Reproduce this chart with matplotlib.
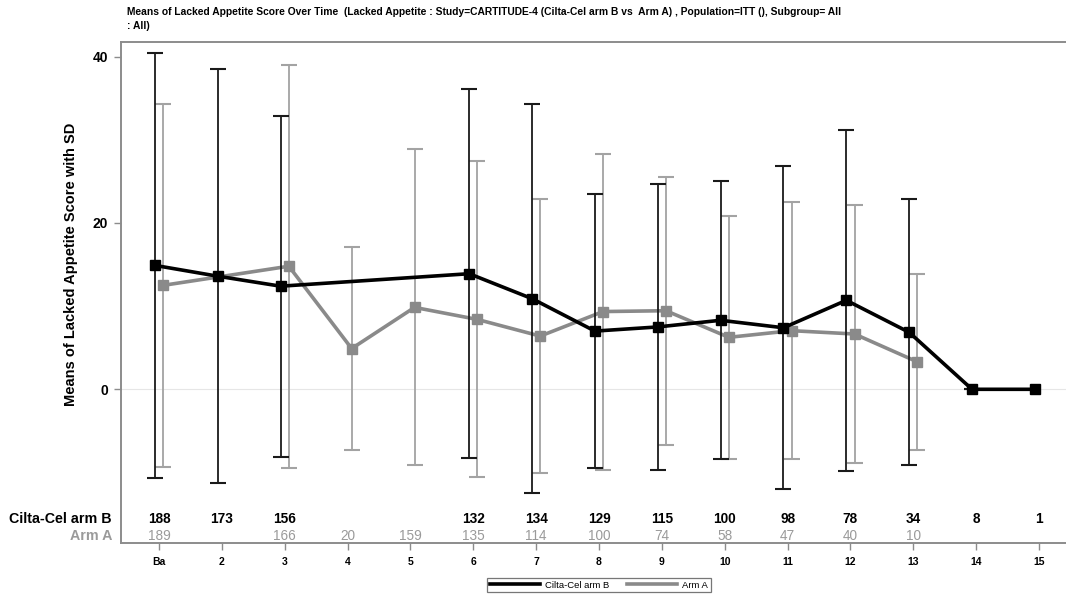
import numpy as np
import matplotlib
matplotlib.use("Agg")
import matplotlib.pyplot as plt
from matplotlib.lines import Line2D
import matplotlib.transforms as mtransforms

plt.rcParams["font.family"] = ["Liberation Sans", "DejaVu Sans"]

# Visit labels (position 1 = baseline)
visit_labels = ["Ba", "2", "3", "4", "5", "6", "7", "8", "9", "10", "11", "12", "13", "14", "15"]

# Cilta-Cel arm B: mean, SD and N per visit (nan = not assessed)
mean_b = [14.9, 13.6, 12.4, np.nan, np.nan, 13.9, 10.9, 7.0, 7.5, 8.3, 7.4, 10.7, 6.85, 0.0, 0.0]
sd_b = [25.6, 24.9, 20.5, np.nan, np.nan, 22.2, 23.4, 16.5, 17.15, 16.7, 19.45, 20.5, 16.0, 0.0, np.nan]
n_b = [188, 173, 156, None, None, 132, 134, 129, 115, 100, 98, 78, 34, 8, 1]

# Arm A: mean, SD and N per visit
mean_a = [12.5, np.nan, 14.8, 4.9, 9.85, 8.4, 6.4, 9.35, 9.45, 6.25, 7.05, 6.65, 3.3, np.nan, np.nan]
sd_a = [21.8, np.nan, 24.25, 12.2, 19.0, 19.0, 16.5, 19.0, 16.1, 14.6, 15.45, 15.5, 10.55, np.nan, np.nan]
n_a = [189, None, 166, 20, 159, 135, 114, 100, 74, 58, 47, 40, 10, None, None]

title_text = ("Means of Lacked Appetite Score Over Time  (Lacked Appetite : Study=CARTITUDE-4 "
              "(Cilta-Cel arm B vs  Arm A) , Population=ITT (), Subgroup= All\n: All)")

BLACK = "#000000"
GREY_LINE = "#8a8a8a"
GREY_BAR = "#a3a3a3"
GREY_TEXT = "#9a9a9a"
FRAME = "#8c8c8c"

W, H = 1066, 596
fig = plt.figure(figsize=(W / 100, H / 100), dpi=100)
ax = fig.add_axes([120.7 / W, 1 - 543.3 / H, (1066 - 120.7) / W, (543.3 - 42.3) / H])

x = np.arange(1, len(visit_labels) + 1, dtype=float)
off = 0.065


def draw_arm(xs, means, sds, line_color, bar_color, z):
    xs = np.asarray(xs)
    means = np.asarray(means, dtype=float)
    sds = np.asarray(sds, dtype=float)
    ok = ~np.isnan(means)
    eb = ~np.isnan(sds) & ok
    ax.errorbar(xs[eb], means[eb], yerr=sds[eb], fmt="none", ecolor=bar_color,
                elinewidth=1.3, capsize=5.8, capthick=1.5, zorder=z)
    ax.plot(xs[ok], means[ok], color=line_color, lw=2.6, marker="s", ms=7.2,
            mec=line_color, mfc=line_color, zorder=z + 1, solid_joinstyle="miter")


draw_arm(x + off, mean_a, sd_a, GREY_LINE, GREY_BAR, 3)
draw_arm(x - off, mean_b, sd_b, BLACK, "#1a1a1a", 5)

ax.axhline(0, color="#e6e6e6", lw=0.8, zorder=1)

ax.set_xlim(0.39, 15.43)
ax.set_ylim(-18.52, 41.73)
ax.set_xticks(x)
ax.set_xticklabels(visit_labels, fontsize=7.5, fontweight="bold")
ax.set_yticks([0, 20, 40])
ax.set_yticklabels(["0", "20", "40"], fontsize=10, fontweight="bold")
ax.tick_params(axis="both", direction="out", length=5, width=1, color=FRAME, pad=4)
ax.tick_params(axis="x", pad=5)

for side in ["left", "bottom", "top"]:
    ax.spines[side].set_color(FRAME)
    ax.spines[side].set_linewidth(1.4)
ax.spines["right"].set_visible(False)

ax.set_ylabel("Means of Lacked Appetite Score with SD", fontsize=10.5, fontweight="bold")
ax.yaxis.set_label_coords((78 - 120.7) / 945.3, (543.3 - 264) / 501)

# At-risk counts table inside the bottom of the plot area
trans = mtransforms.blended_transform_factory(ax.transData, fig.transFigure)
y_b = 1 - 519 / H
y_a = 1 - 535.5 / H
for xi, nb, na in zip(x, n_b, n_a):
    if nb is not None:
        ax.text(xi, y_b, str(nb), transform=trans, ha="center", va="center",
                fontsize=9.8, fontweight="bold", color=BLACK)
    if na is not None:
        ax.text(xi, y_a, str(na), transform=trans, ha="center", va="center",
                fontsize=9.8, color=GREY_TEXT)

fig.text(112 / W, y_b, "Cilta-Cel arm B", ha="right", va="center", fontsize=10.3,
         fontweight="bold", color=BLACK)
fig.text(112 / W, y_a, "Arm A", ha="right", va="center", fontsize=10.3,
         fontweight="bold", color=GREY_TEXT)

fig.text(127 / W, 1 - 7 / H, title_text, ha="left", va="top", fontsize=7.35,
         fontweight="bold", linespacing=1.5)

handles = [Line2D([], [], color=BLACK, lw=2.6), Line2D([], [], color=GREY_LINE, lw=2.6)]
leg = fig.legend(handles, ["Cilta-Cel arm B", "Arm A"], loc="center",
                 bbox_to_anchor=(599 / W, 1 - 585 / H), ncol=2, fontsize=6.8,
                 frameon=True, fancybox=False, handlelength=5.3, handletextpad=0.6,
                 columnspacing=1.8, borderpad=0.25, borderaxespad=0)
leg.get_frame().set_edgecolor("#555555")
leg.get_frame().set_linewidth(0.9)

fig.savefig("out.png", dpi=100)
